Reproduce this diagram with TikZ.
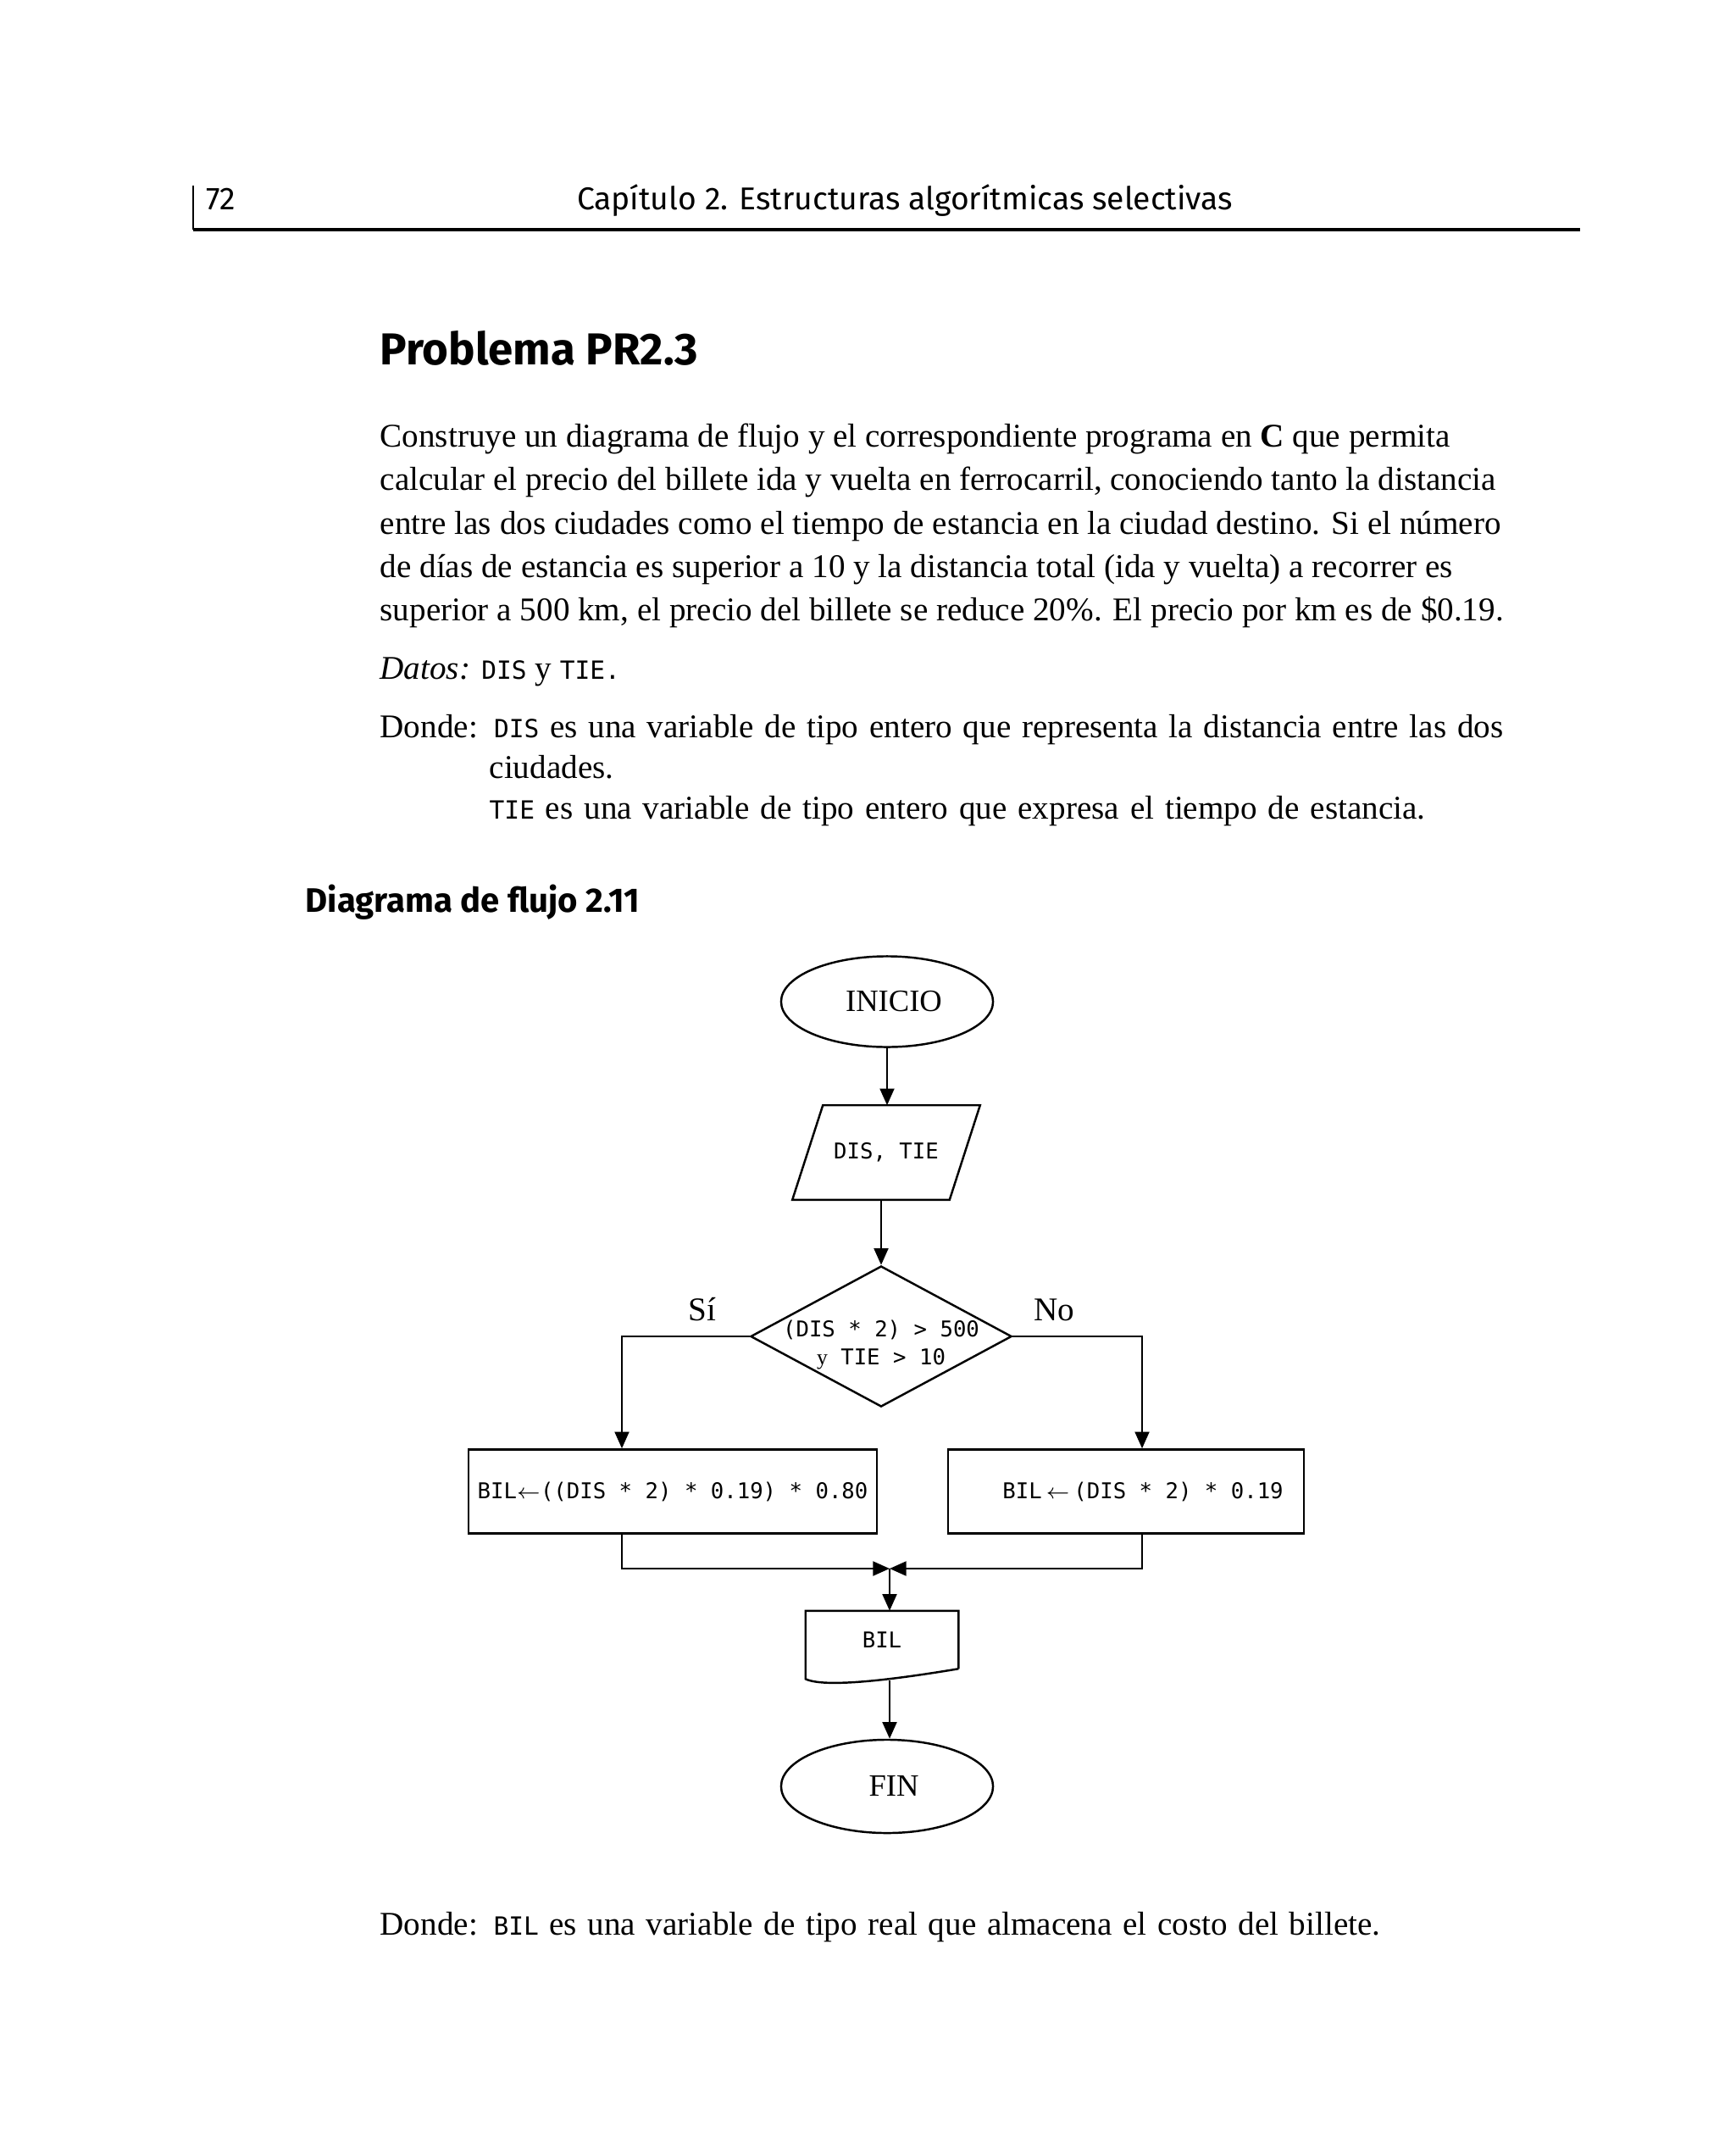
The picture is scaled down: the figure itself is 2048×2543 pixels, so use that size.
\documentclass[tikz,border=0pt]{standalone}
\usepackage{fontspec}
\setmainfont{Liberation Serif}
\newfontfamily\cab{Fira Sans}
\newfontfamily\mono{DejaVu Sans Mono}
\usetikzlibrary{shapes.geometric,arrows.meta,calc}
\newcommand{\tx}[1]{{\mono\fontsize{8.4}{10}\selectfont #1}}

\begin{document}
\begin{tikzpicture}[x=0.01cm,y=-0.01cm,
  txt/.style={anchor=base west,inner sep=0,font=\fontsize{11.13}{14}\selectfont},
  caja/.style={draw,line width=0.7pt,inner sep=0,font=\mono\fontsize{7.3}{9.2}\selectfont},
  flecha/.style={line width=0.7pt,-{Triangle[length=5.6pt,width=4.8pt]}}]
\useasboundingbox[fill=white] (0,0) rectangle (2048,2543);
\draw[line width=1.1pt] (228,271)--(1865,271);
\draw[line width=0.5pt] (228,219)--(228,271);
\node[anchor=base west,inner sep=0,font=\cab\fontsize{10.6}{12}\selectfont] (pag) at (243,248) {72};
\node[anchor=base,inner sep=0,font=\cab\fontsize{10.6}{12}\selectfont] (capitulo) at (1068,248) {Capítulo 2. Estructuras algorítmicas selectivas};
\node[anchor=base west,inner sep=0,font=\cab\bfseries\fontsize{15}{18}\selectfont] (titulo) at (448,431) {Problema PR2.3};
\node[txt] (linea1) at (448,528) {Construye un diagrama de flujo y el correspondiente programa en \textbf{C} que permita};
\node[txt] (linea2) at (448,579) {calcular el precio del billete ida y vuelta en ferrocarril, conociendo tanto la distancia};
\node[txt] (linea3) at (448,630) {entre las dos ciudades como el tiempo de estancia en la ciudad destino. Si el número};
\node[txt] (linea4) at (448,681) {de días de estancia es superior a 10 y la distancia total (ida y vuelta) a recorrer es};
\node[txt] (linea5) at (448,732) {superior a 500 km, el precio del billete se reduce 20\%. El precio por km es de \$0.19.};
\node[txt] (datos1) at (448,801) {\textit{Datos:} \tx{DIS} y \tx{TIE.}};
\node[txt] (donde1) at (448,870) {\makebox[13.25cm][s]{Donde: \tx{DIS} es una variable de tipo entero que representa la distancia entre las dos}};
\node[txt] (donde2) at (577,918) {ciudades.};
\node[txt] (donde3) at (577,966) {\makebox[11.04cm][s]{\tx{TIE} es una variable de tipo entero que expresa el tiempo de estancia.}};
\node[anchor=base west,inner sep=0,font=\cab\bfseries\fontsize{11.4}{13}\selectfont] (diagrama) at (360,1076) {Diagrama de flujo 2.11};

\node[caja,ellipse,minimum width=2.5cm,minimum height=1.07cm,font=\fontsize{10.4}{13}\selectfont] (inicio) at (1047,1182) {\hspace*{0.16cm}INICIO};
\node[caja,draw=none,minimum width=1.83cm,minimum height=1.09cm] (datos) at (1046,1360) {DIS, TIE};
\draw[line width=0.7pt] ($(datos.north west)+(18,0)$) -- ($(datos.north east)+(18,0)$) -- ($(datos.south east)+(-18,0)$) -- ($(datos.south west)+(-18,0)$) -- cycle;
\node[caja,diamond,aspect=1.85,minimum width=3.08cm,minimum height=1.66cm,
  label={[font=\mono\fontsize{7.3}{9.2}\selectfont,align=center,yshift=-0.1cm]center:(DIS * 2) > 500\\{\rmfamily y} TIE > 10}] (cond) at (1040,1577) {};
\node[txt,anchor=base] (si) at (829,1558) {Sí};
\node[txt,anchor=base] (no) at (1244,1558) {No};
\node[caja,minimum width=4.82cm,minimum height=0.99cm] (izq) at (794,1760) {BIL$\leftarrow$((DIS * 2) * 0.19) * 0.80};
\node[caja,minimum width=4.2cm,minimum height=0.99cm] (der) at (1329,1760) {\hspace*{0.4cm}BIL$\,\leftarrow\,$(DIS * 2) * 0.19};
\node[caja,draw=none,minimum width=1.78cm,minimum height=0.66cm] (bil) at (1041,1935) {BIL};
\draw[line width=0.7pt] (bil.south east) -- (bil.north east) -- (bil.north west) -- ($(bil.south west)+(0,12)$) .. controls +(25,12) and +(-60,10) .. (bil.south east);
\node[caja,ellipse,minimum width=2.5cm,minimum height=1.1cm,font=\fontsize{10.4}{13}\selectfont] (fin) at (1047,2108) {\hspace*{0.16cm}FIN};
\coordinate (codosi) at (734,1577);
\coordinate (codono) at (1348,1577);
\coordinate (union) at (1050,1851);
\draw[flecha] (inicio.south) -- (inicio.south |- datos.north);
\draw[flecha] (datos.south -| cond.north) -- (cond.north);
\draw[flecha] (cond.west) -- (codosi) -- (codosi |- izq.north);
\draw[flecha] (cond.east) -- (codono) -- (codono |- der.north);
\draw[flecha] (codosi |- izq.south) |- (union);
\draw[flecha] (codono |- der.south) |- (union);
\draw[flecha] (union) -- (union |- bil.north);
\draw[flecha] ($(union |- bil.south)+(0,14)$) -- (union |- fin.north);

\node[txt] (donde4) at (448,2283) {\makebox[11.8cm][s]{Donde: \tx{BIL} es una variable de tipo real que almacena el costo del billete.}};
\end{tikzpicture}
\end{document}
